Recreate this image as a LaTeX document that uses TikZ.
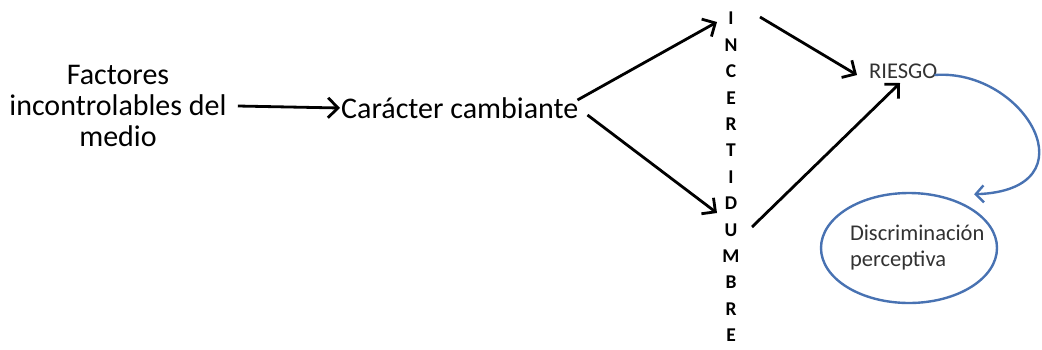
\documentclass[tikz,border=0pt]{standalone}
\usepackage{fontspec}
\setmainfont{Carlito}
\usepackage{xcolor}
\usepackage{tikz}
\usetikzlibrary{arrows.meta,positioning,shapes.geometric}
\definecolor{riskblue}{RGB}{72,114,178}
\definecolor{textgray}{RGB}{50,50,50}

\begin{document}
\begin{tikzpicture}[x=1pt,y=-1pt,
    txt/.style={font=\fontsize{30}{31}\selectfont, inner sep=1pt},
    small/.style={font=\fontsize{22.5}{26}\selectfont, text=textgray, inner sep=1pt},
    vword/.style={font=\fontsize{19.5}{26.4}\selectfont\bfseries, align=center, inner sep=0pt},
    arr/.style={-{Straight Barb[length=10pt,width=20pt]}, line width=2.8pt},
    bluearr/.style={-{Straight Barb[length=8pt,width=17pt]}, line width=2.4pt, riskblue}]
                \useasboundingbox (0,0) rectangle (1042,349);

                % Nodes
                \node[txt, align=center] (factores) at (118,106) {Factores\\incontrolables del\\medio};
                \node[txt, anchor=west] (caracter) at (340,108) {Carácter cambiante};
                \node[vword] (incert) at (731,177) {I\\N\\C\\E\\R\\T\\I\\D\\U\\M\\B\\R\\E};
                \node[small, anchor=west] (riesgo) at (868,71) {RIESGO};
                \node[ellipse, draw=riskblue, line width=2.4pt, minimum width=176, minimum height=110,
                      small, text width=118pt, align=left, inner sep=0pt] (discrim) at (909,248)
                      {Discriminación\\perceptiva};

                % Arrows
                \draw[arr] ([xshift=10pt]factores.east) -- (caracter.west);
                \draw[arr] ([shift={(-2,-8)}]caracter.east) -- ([shift={(-14,-155)}]incert.center);
                \draw[arr] ([shift={(8,7)}]caracter.east) -- ([shift={(-14,36)}]incert.center);
                \draw[arr] ([shift={(29,-160)}]incert.center) -- ([shift={(-11,4)}]riesgo.west);
                \draw[arr] ([shift={(21,50)}]incert.center) -- ([shift={(32,12)}]riesgo.west);

                % Feedback curve
                \draw[bluearr] ([shift={(-4,4)}]riesgo.east) .. controls (1025,68) and (1095,190) .. ([shift={(2,-14)}]discrim.north east);
            \end{tikzpicture}
\end{document}
